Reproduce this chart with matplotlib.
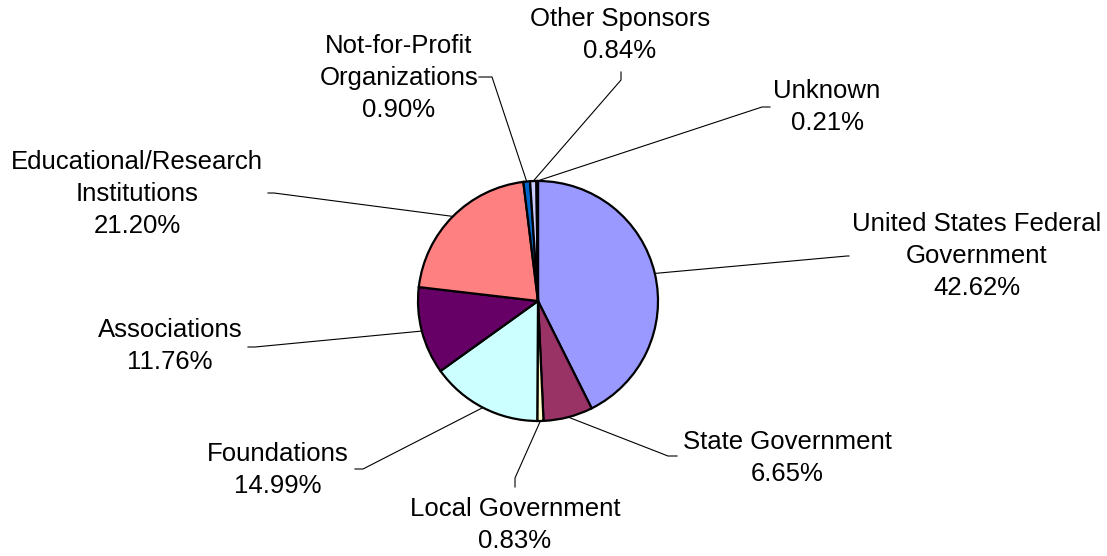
import numpy as np
import matplotlib.pyplot as plt

plt.rcParams["font.family"] = ["Liberation Sans", "DejaVu Sans"]

# share of funding by sponsor type (%), clockwise from 12 o'clock
sponsors = ["United States Federal\nGovernment", "State Government", "Local Government",
            "Foundations", "Associations", "Educational/Research\nInstitutions",
            "Not-for-Profit\nOrganizations", "Other Sponsors", "Unknown"]
shares = [42.62, 6.65, 0.83, 14.99, 11.76, 21.20, 0.90, 0.84, 0.21]
colors = ["#9999FF", "#993366", "#FFFFCC", "#CCFFFF", "#660066",
          "#FF8080", "#0066CC", "#CCCCFF", "#000080"]

W, H = 1107, 556

# label block centre and leader line path (elbow, end) in pixel coords (y down)
label_pos = [(977, 256), (787, 458), (515, 525), (278, 470), (170, 346),
             (137, 194), (399, 78), (620, 35), (827, 107)]
leader = [[(847, 256), (849, 256)],
          [(668, 456), (677, 456)],
          [(515, 478), (515, 487)],
          [(363, 469), (355, 469)],
          [(255, 347), (248, 347)],
          [(274, 193), (268, 193)],
          [(492, 77), (479, 77)],
          [(621, 80), (621, 72)],
          [(762, 107), (770, 107)]]

fig = plt.figure(figsize=(W / 100, H / 100), dpi=100)
ax = fig.add_axes([0, 0, 1, 1])

cx, cy, r = 538, H - 301, 120
wedges, _ = ax.pie(shares, colors=colors, startangle=90, counterclock=False,
                   center=(cx, cy), radius=r, frame=True,
                   wedgeprops=dict(edgecolor="black", linewidth=1.6))
ax.set_xlim(0, W)
ax.set_ylim(0, H)
ax.set_aspect("equal")
ax.axis("off")

for w, name, val, (tx, ty), path in zip(wedges, sponsors, shares, label_pos, leader):
    mid = np.deg2rad((w.theta1 + w.theta2) / 2)
    px, py = cx + r * np.cos(mid), cy + r * np.sin(mid)
    xs = [px] + [p[0] for p in path]
    ys = [py] + [H - p[1] for p in path]
    ax.plot(xs, ys, color="black", linewidth=0.8)
    ax.text(tx, H - ty, f"{name}\n{val:.2f}%", ha="center", va="center",
            fontsize=18.5, linespacing=1.4)

fig.savefig("out.png", dpi=100)
